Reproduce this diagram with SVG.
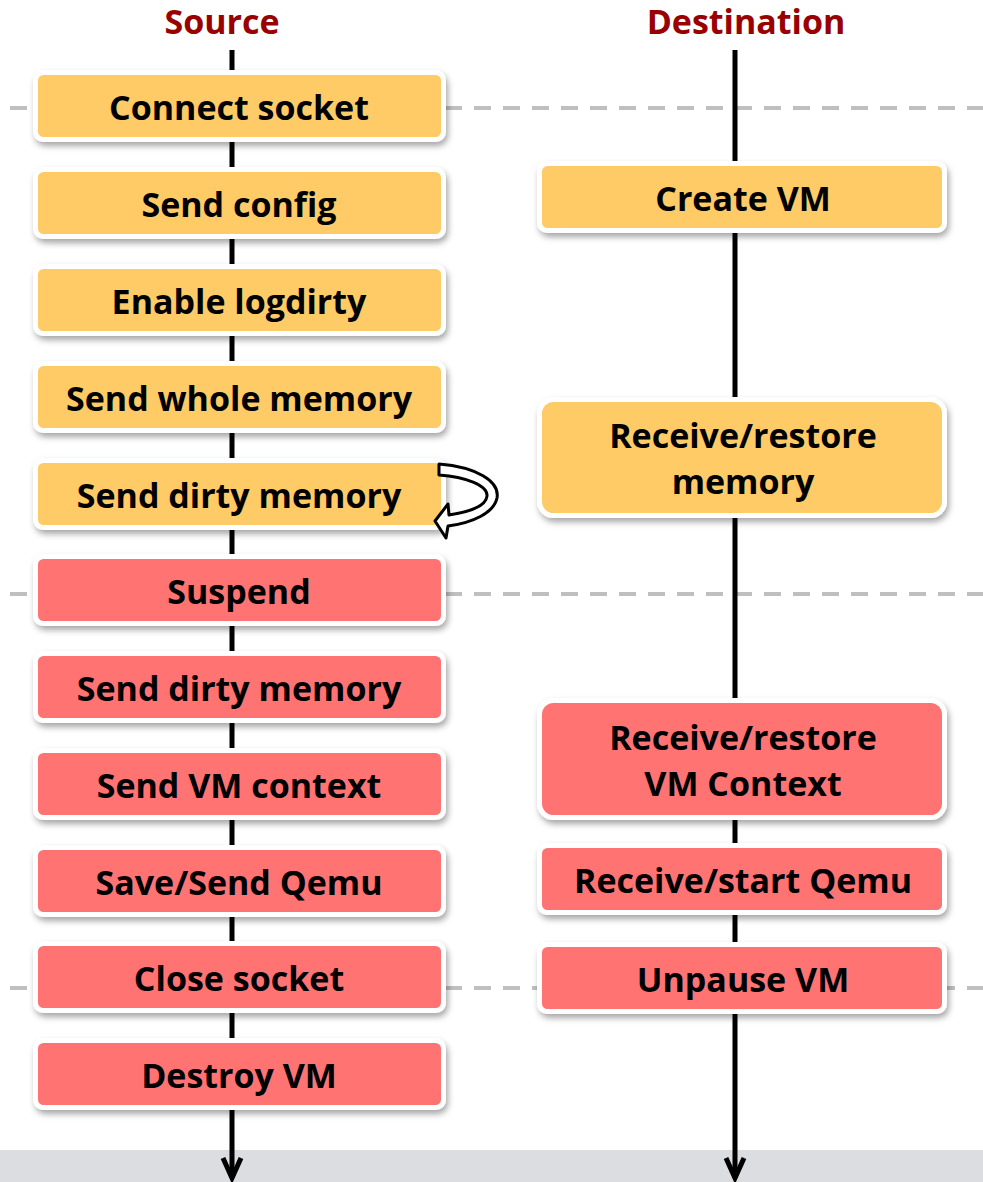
<svg xmlns="http://www.w3.org/2000/svg" width="983" height="1182" viewBox="0 0 983 1182">
<style>
.t{font-family:"Open Sans","Noto Sans","Liberation Sans",sans-serif;font-weight:bold;font-size:34px;fill:#000;text-anchor:middle;dominant-baseline:central}
.h{font-family:"Open Sans","Noto Sans","Liberation Sans",sans-serif;font-weight:bold;font-size:34px;fill:#990000;text-anchor:middle}
.y{fill:#FECB66;stroke:#fff;stroke-width:5;filter:url(#sh)}
.r{fill:#FF7373;stroke:#fff;stroke-width:5;filter:url(#sh)}
.ax{stroke:#000;stroke-width:5;fill:none}
.ds{stroke:#bfbfbf;stroke-width:4;stroke-dasharray:17 12;fill:none}
</style>
<defs>
<filter id="sh" x="-10%" y="-30%" width="120%" height="170%">
<feDropShadow dx="2" dy="4" stdDeviation="3" flood-color="#000" flood-opacity="0.35"/>
</filter>
</defs>
<rect x="0" y="0" width="983" height="1182" fill="#fff"/>
<rect x="0" y="1150" width="983" height="32" fill="#dcdde0"/>
<g id="separators">
<line class="ds" x1="10" y1="108" x2="983" y2="108"/>
<line class="ds" x1="10" y1="594" x2="983" y2="594"/>
<line class="ds" x1="10" y1="988" x2="983" y2="988"/>
</g>
<g id="connectors">
<line class="ax" x1="232" y1="50" x2="232" y2="1178"/>
<polyline class="ax" points="223,1158 232,1178 241,1158" stroke-width="4"/>
<line class="ax" x1="735" y1="50" x2="735" y2="1178"/>
<polyline class="ax" points="726,1158 735,1178 744,1158" stroke-width="4"/>
</g>
<text class="h" x="222" y="34">Source</text>
<text class="h" x="746" y="34">Destination</text>
<g id="s1"><rect class="y" x="35.5" y="72.5" width="408" height="67" rx="8"/><text class="t" x="239" y="107">Connect socket</text></g>
<g id="s2"><rect class="y" x="35.5" y="169.5" width="408" height="67" rx="8"/><text class="t" x="239" y="204">Send config</text></g>
<g id="s3"><rect class="y" x="35.5" y="266.5" width="408" height="67" rx="8"/><text class="t" x="239" y="301">Enable logdirty</text></g>
<g id="s4"><rect class="y" x="35.5" y="363.5" width="408" height="67" rx="8"/><text class="t" x="239" y="398">Send whole memory</text></g>
<g id="s5"><rect class="y" x="35.5" y="460.5" width="408" height="67" rx="8"/><text class="t" x="239" y="495">Send dirty memory</text></g>
<g id="s6"><rect class="r" x="35.5" y="556.5" width="408" height="67" rx="8"/><text class="t" x="239" y="591">Suspend</text></g>
<g id="s7"><rect class="r" x="35.5" y="653.5" width="408" height="67" rx="8"/><text class="t" x="239" y="688">Send dirty memory</text></g>
<g id="s8"><rect class="r" x="35.5" y="750.5" width="408" height="67" rx="8"/><text class="t" x="239" y="785">Send VM context</text></g>
<g id="s9"><rect class="r" x="35.5" y="847.5" width="408" height="67" rx="8"/><text class="t" x="239" y="882">Save/Send Qemu</text></g>
<g id="s10"><rect class="r" x="35.5" y="943.5" width="408" height="67" rx="8"/><text class="t" x="239" y="978">Close socket</text></g>
<g id="s11"><rect class="r" x="35.5" y="1040.5" width="408" height="67" rx="8"/><text class="t" x="239" y="1075">Destroy VM</text></g>
<g id="d1"><rect class="y" x="539.5" y="163.5" width="405" height="67" rx="8"/><text class="t" x="743" y="198">Create VM</text></g>
<g id="d2"><rect class="y" x="539.5" y="399.5" width="405" height="116" rx="14"/><text class="t" x="743" y="435">Receive/restore</text><text class="t" x="743" y="481">memory</text></g>
<g id="d3"><rect class="r" x="539.5" y="700.5" width="405" height="117" rx="14"/><text class="t" x="743" y="737">Receive/restore</text><text class="t" x="743" y="783">VM Context</text></g>
<g id="d4"><rect class="r" x="539.5" y="845.5" width="405" height="67" rx="8"/><text class="t" x="743" y="880">Receive/start Qemu</text></g>
<g id="d5"><rect class="r" x="539.5" y="944.5" width="405" height="67" rx="8"/><text class="t" x="743" y="979">Unpause VM</text></g>
<g id="loop-connector">
<path d="M439 464 C476 467 500 481 497 498 C494 513 472 523 448 526 L446 538 L435 521 L448 504 L449 515 C469 512 486 506 487 496 C488 485 465 477 439 475 Z" fill="#fff" stroke="#000" stroke-width="3" stroke-linejoin="round"/>
</g>
</svg>
